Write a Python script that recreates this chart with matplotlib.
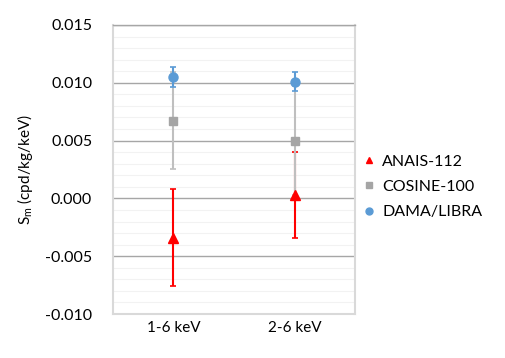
import matplotlib
matplotlib.use('Agg')
import matplotlib.pyplot as plt
import numpy as np
from matplotlib.ticker import MultipleLocator
from matplotlib.lines import Line2D

plt.rcParams['font.family'] = ['Lato', 'DejaVu Sans']

categories = ['1-6 keV', '2-6 keV']
series_names = ['ANAIS-112', 'COSINE-100', 'DAMA/LIBRA']
anais_vals = [-0.0034, 0.0003]
anais_err = [0.0042, 0.0037]
cosine_vals = [0.0067, 0.0050]
cosine_err = [0.0042, 0.0047]
dama_vals = [0.0105, 0.0101]
dama_err = [0.0009, 0.0008]

colors = ['#FF0000', '#A5A5A5', '#5B9BD5']
markers = ['^', 's', 'o']

fig = plt.figure(figsize=(5.06, 3.58), dpi=100)
ax = fig.add_axes([0.2233, 0.1229, 0.7016 - 0.2233, 0.9302 - 0.1229])

x = np.arange(len(categories))

ax.errorbar(x, anais_vals, yerr=anais_err, fmt='none', ecolor=colors[0],
            elinewidth=1.5, capsize=2, capthick=1.2, zorder=3)
ax.errorbar(x, cosine_vals, yerr=cosine_err, fmt='none', ecolor='#BFBFBF',
            elinewidth=1.5, capsize=2, capthick=1.2, zorder=4)
ax.errorbar(x, dama_vals, yerr=dama_err, fmt='none', ecolor=colors[2],
            elinewidth=1.5, capsize=2, capthick=1.2, zorder=5)
# markers on top of all error bars
ax.plot(x, anais_vals, linestyle='none', marker='^', color=colors[0], markersize=6.5, zorder=6)
ax.plot(x, cosine_vals, linestyle='none', marker='s', color=colors[1], markersize=5.5, zorder=6)
ax.plot(x, dama_vals, linestyle='none', marker='o', color=colors[2], markersize=6.5, zorder=6)

ax.set_xlim(-0.5, 1.5)
ax.set_ylim(-0.010, 0.015)
ax.set_xticks(x)
ax.set_xticklabels(categories, fontsize=11)
yticks = np.arange(-0.010, 0.0151, 0.005)
ax.set_yticks(yticks)
ax.set_yticklabels(['%.3f' % v for v in yticks], fontsize=11.5)
ax.yaxis.set_minor_locator(MultipleLocator(0.001))
ax.tick_params(axis='x', length=0, pad=5)
ax.tick_params(axis='y', length=0, pad=15)
ax.tick_params(axis='y', which='minor', length=0)

ax.grid(True, which='major', axis='y', color='#A6A6A6', linewidth=1.0, zorder=0)
ax.grid(True, which='minor', axis='y', color='#F2F2F2', linewidth=0.8, zorder=0)
ax.set_axisbelow(True)

for side in ['left', 'bottom', 'right']:
    ax.spines[side].set_color('#D9D9D9')
    ax.spines[side].set_linewidth(1.5)
ax.spines['top'].set_color('#A6A6A6')
ax.spines['top'].set_linewidth(1.0)

ax.set_ylabel('S$_\\mathregular{m}$ (cpd/kg/keV)', fontsize=11)
ax.yaxis.set_label_coords(-0.322, 0.5)

handles = [Line2D([], [], linestyle='none', marker=m, color=c, markersize=5)
           for m, c in zip(markers, colors)]
ax.legend(handles, series_names, loc='center left', bbox_to_anchor=(1.0, 0.44),
          frameon=False, fontsize=11.5, handletextpad=0.3, handlelength=1.0,
          labelspacing=0.7, borderaxespad=0)

fig.savefig('out.png', dpi=100)
